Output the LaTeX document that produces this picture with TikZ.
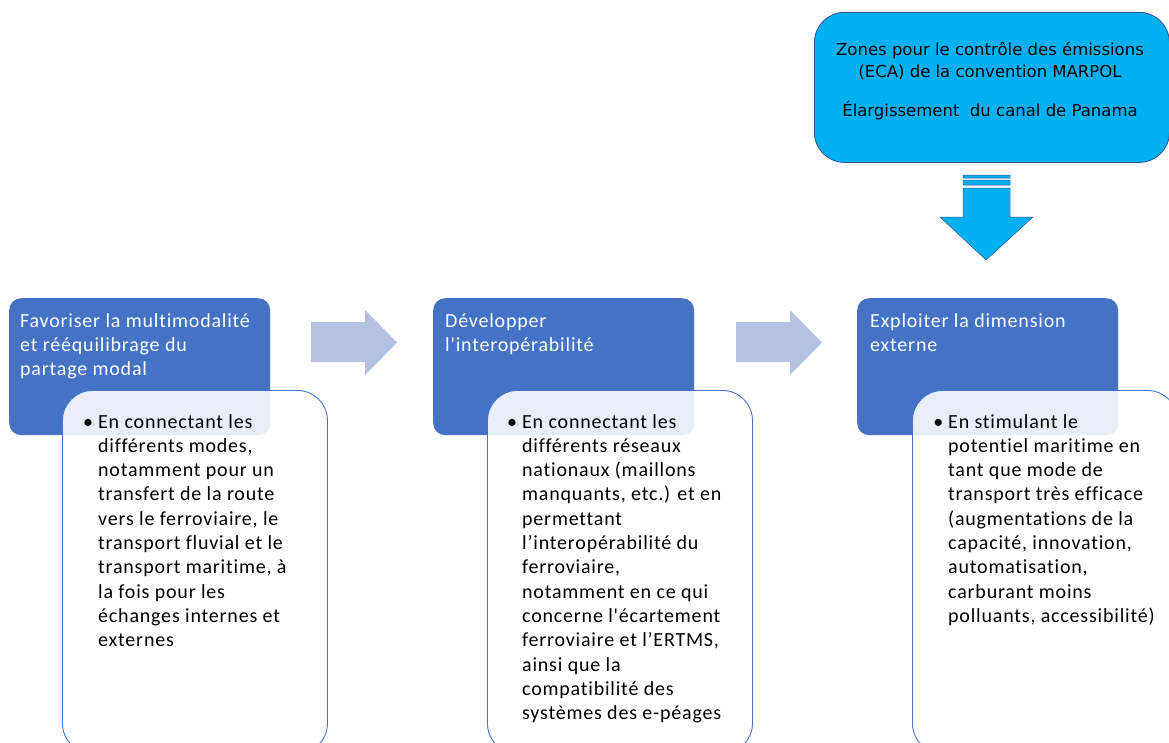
\documentclass[tikz,border=0pt]{standalone}
\usepackage{fontspec}
\setmainfont{Carlito}[LetterSpace=4, Ligatures={TeXOff, CommonOff}]
\newfontfamily\topfont{DejaVu Sans}
\usepackage{tikz}
\usepackage{xcolor}
\usetikzlibrary{positioning}
\definecolor{hdblue}{HTML}{4472C4}
\definecolor{arrblue}{HTML}{B4C1E1}
\definecolor{skyblue}{HTML}{00B0F0}
\definecolor{rimblue}{HTML}{2F528F}
\tikzset{
  hdbox/.style={fill=hdblue, rounded corners=12pt, minimum width=261pt,
    minimum height=137pt, anchor=north west, inner sep=0pt},
  hdtext/.style={anchor=north west, text=white, align=left, inner sep=0pt,
    font=\fontsize{20}{24.3}\selectfont},
  bdbox/.style={draw=hdblue, line width=0.9pt, fill=white, fill opacity=0.88,
    rounded corners=30pt, minimum width=265pt, minimum height=363pt,
    anchor=north west, inner sep=0pt},
  bdtext/.style={anchor=north west, align=left, inner sep=0pt,
    font=\fontsize{20}{24.3}\selectfont},
  blkarrow/.style={fill=arrblue},
}
\newcommand{\bul}{\makebox[0pt][r]{\textbullet\hspace{5pt}}}

\begin{document}
\begin{tikzpicture}[x=1pt,y=-1pt]
\clip (0,0) rectangle (1169,742);

% top box and its arrow
\node[draw=rimblue, line width=0.8pt, fill=skyblue, rounded corners=30pt,
  minimum width=355pt, minimum height=150pt, anchor=north west] (ext) at (814,12) {};
\node[align=center, inner sep=0pt, font=\topfont\fontsize{16.5}{22}\selectfont] (exttxt)
  at (990,42) [anchor=north] {Zones pour le contr\^ole des \'emissions\\(ECA) de la convention MARPOL\\[17pt]
  \'Elargissement \ du canal de Panama};
\filldraw[draw=rimblue, fill=skyblue, line width=0.5pt]
  (963,175) rectangle (1010,178)
  (963,180) rectangle (1010,185)
  (963,188) -- (1010,188) -- (1010,217) -- (1033,217) -- (986,260)
  -- (940,217) -- (963,217) -- cycle;

% blue headers
\node[hdbox] (hd1) at (9,298) {};
\node[hdbox] (hd2) at (433,298) {};
\node[hdbox] (hd3) at (857,298) {};
\node[hdtext] (hdt1) at (20,313) {Favoriser la multimodalit\'e\\et r\'e\'equilibrage du\\partage modal};
\node[hdtext] (hdt2) at (445,313) {D\'evelopper\\l'interop\'erabilit\'e};
\node[hdtext] (hdt3) at (870,313) {Exploiter la dimension\\externe};

% arrows between
\fill[blkarrow] (311,322) -- (365,322) -- (365,310) -- (397,342.5) -- (365,375)
  -- (365,362) -- (311,362) -- cycle;
\fill[blkarrow] (736,322) -- (790,322) -- (790,310) -- (822,342.5) -- (790,375)
  -- (790,362) -- (736,362) -- cycle;

% white boxes
\node[bdbox] (bd1) at (62,390) {};
\node[bdbox] (bd2) at (487,390) {};
\node[bdbox] (bd3) at (912,390) {};
\node[bdtext] (bdt1) at (98,414) {\bul En connectant les\\diff\'erents modes,\\notamment pour un\\transfert de la route\\vers le ferroviaire, le\\transport fluvial et le\\transport maritime, \`a\\la fois pour les\\\'echanges internes et\\externes};
\node[bdtext] (bdt2) at (522,414) {\bul En connectant les\\diff\'erents r\'eseaux\\nationaux (maillons\\manquants, etc.) et en\\permettant\\l’interop\'erabilit\'e du\\ferroviaire,\\notamment en ce qui\\concerne l'\'ecartement\\ferroviaire et l’ERTMS,\\ainsi que la\\compatibilit\'e des\\syst\`emes des e-p\'eages};
\node[bdtext] (bdt3) at (948,414) {\bul En stimulant le\\potentiel maritime en\\tant que mode de\\transport tr\`es efficace\\(augmentations de la\\capacit\'e, innovation,\\automatisation,\\carburant moins\\polluants, accessibilit\'e)};
\end{tikzpicture}
\end{document}
